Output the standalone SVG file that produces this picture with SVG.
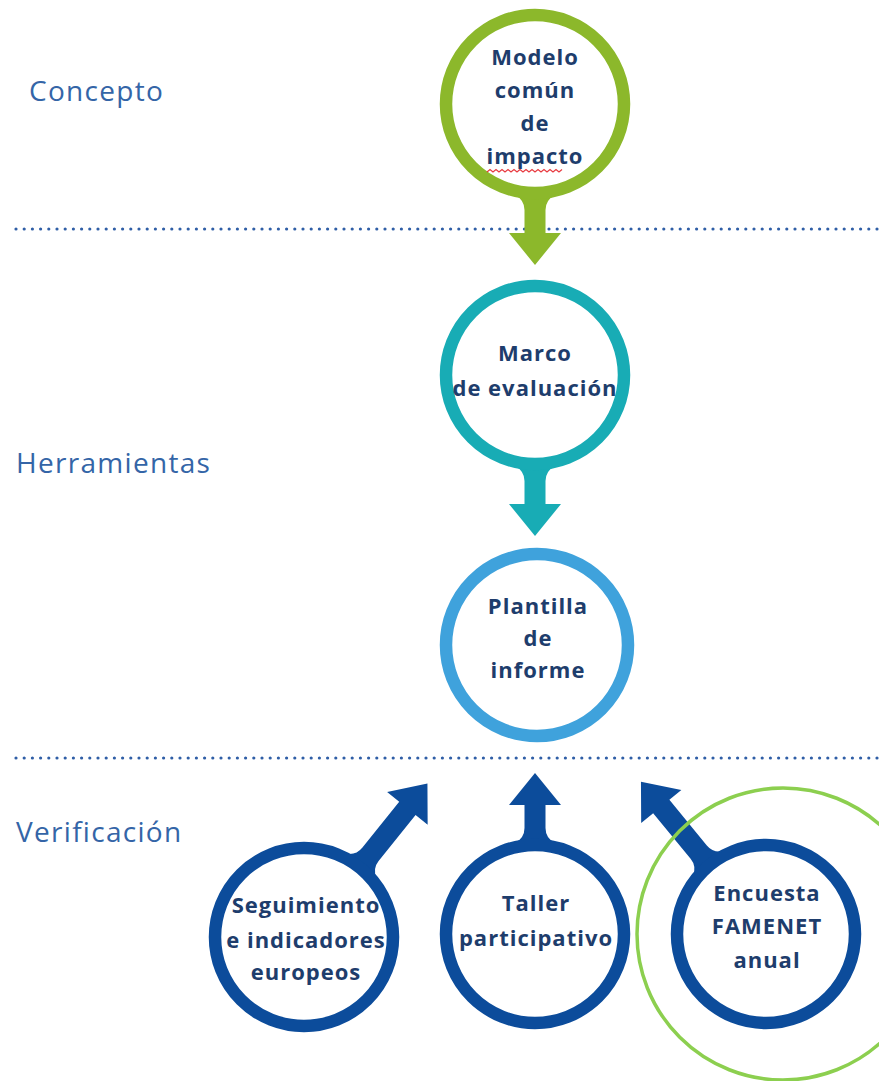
<svg xmlns="http://www.w3.org/2000/svg" width="879" height="1081" viewBox="0 0 879 1081">
<style>
.lbl{font-family:"Open Sans",Lato,"Liberation Sans",sans-serif;font-size:28px;letter-spacing:1.3px;fill:#3465a7}
.nt{font-family:"Open Sans",Lato,"Liberation Sans",sans-serif;font-size:22px;letter-spacing:1px;font-weight:bold;fill:#1e3d6c;text-anchor:middle}
.ring{fill:#fff;stroke-width:12.5}
.sep{stroke:#2f5ea6;stroke-width:3.2;stroke-linecap:round;stroke-dasharray:0 8.2;fill:none}
</style>
<defs>
<path id="arrowShort" d="M -20 91 Q -10.5 96 -10.5 106 L -10.5 129 L -26 129 L 0 161 L 26 129 L 10.5 129 L 10.5 106 Q 10.5 96 20 91 Z"/>
<path id="arrowLong" d="M -20 91 Q -10.5 96 -10.5 106 L -10.5 165 L -26 165 L 0 197 L 26 165 L 10.5 165 L 10.5 106 Q 10.5 96 20 91 Z"/>
</defs>
<rect width="879" height="1081" fill="#fff"/>

<g id="separators">
<line class="sep" x1="16" y1="229" x2="879" y2="229"/>
<line class="sep" x1="16" y1="758" x2="879" y2="758"/>
</g>

<g id="labels">
<text class="lbl" x="29" y="101">Concepto</text>
<text class="lbl" x="16" y="473">Herramientas</text>
<text class="lbl" x="16" y="842">Verificación</text>
</g>

<g id="connectors">
<use href="#arrowShort" transform="translate(535,104)" fill="#8cb82b"/>
<use href="#arrowShort" transform="translate(535,375)" fill="#18acb5"/>
<use href="#arrowLong" transform="translate(304,937) rotate(-141.2)" fill="#0c4c9b"/>
<use href="#arrowShort" transform="translate(535,934) rotate(180)" fill="#0c4c9b"/>
<use href="#arrowLong" transform="translate(766,934) rotate(140.6)" fill="#0c4c9b"/>
</g>

<g id="node-modelo">
<circle class="ring" cx="535" cy="104" r="89" stroke="#8cb82b"/>
<text class="nt" x="535" y="65">Modelo</text>
<text class="nt" x="535" y="98">común</text>
<text class="nt" x="535" y="131">de</text>
<text class="nt" x="535" y="164">impacto</text>
<path d="M487 172 l3 -2.5 l3 2.5 l3 -2.5 l3 2.5 l3 -2.5 l3 2.5 l3 -2.5 l3 2.5 l3 -2.5 l3 2.5 l3 -2.5 l3 2.5 l3 -2.5 l3 2.5 l3 -2.5 l3 2.5 l3 -2.5 l3 2.5 l3 -2.5 l3 2.5 l3 -2.5 l3 2.5 l3 -2.5 l3 2.5 l3 -2.5" fill="none" stroke="#e8393f" stroke-width="1.2"/>
</g>

<g id="node-marco">
<circle class="ring" cx="535" cy="375" r="89" stroke="#18acb5"/>
<text class="nt" x="535" y="361">Marco</text>
<text class="nt" x="535" y="396">de evaluación</text>
</g>

<g id="node-plantilla">
<circle class="ring" cx="537" cy="645" r="91" stroke="#3fa2dc"/>
<text class="nt" x="538" y="614">Plantilla</text>
<text class="nt" x="538" y="646">de</text>
<text class="nt" x="538" y="678">informe</text>
</g>

<g id="node-seguimiento">
<circle class="ring" cx="304" cy="937" r="89" stroke="#0c4c9b"/>
<text class="nt" x="306" y="913">Seguimiento</text>
<text class="nt" x="306" y="948">e indicadores</text>
<text class="nt" x="306" y="980">europeos</text>
</g>

<g id="node-taller">
<circle class="ring" cx="535" cy="934" r="89" stroke="#0c4c9b"/>
<text class="nt" x="536" y="911">Taller</text>
<text class="nt" x="536" y="946">participativo</text>
</g>

<g id="node-encuesta">
<circle class="ring" cx="766" cy="934" r="89" stroke="#0c4c9b"/>
<text class="nt" x="767" y="901">Encuesta</text>
<text class="nt" x="767" y="934">FAMENET</text>
<text class="nt" x="767" y="968">anual</text>
</g>

<g id="highlight">
<circle cx="783" cy="934" r="146" fill="none" stroke="#8ccf4f" stroke-width="3.5"/>
</g>
</svg>
